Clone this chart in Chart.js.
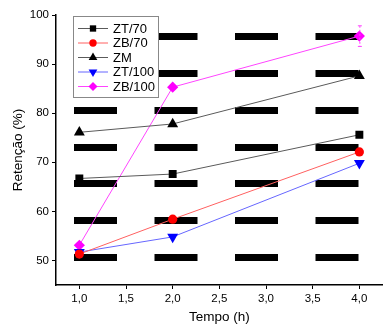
<!DOCTYPE html>
<html>
<head>
<meta charset="utf-8">
<script src="https://cdn.jsdelivr.net/npm/chart.js@4/dist/chart.umd.min.js"></script>
<style>
  html, body { margin: 0; padding: 0; background: #fff; }
  #wrap { width: 389px; height: 333px; }
</style>
</head>
<body>
<div id="wrap"><canvas id="chart" width="389" height="333"></canvas></div>
<script>
const times = [1, 2, 4];
const zt70 = [66.7, 67.6, 75.6];
const zb70 = [51.3, 58.4, 72.1];
const zm = [76.1, 77.8, 87.6];
const zt100 = [51.7, 54.8, 69.8];
const zb100 = [53.1, 85.3, 95.7];
const zb100Err = [0, 0, 2.1];
const xTicks = [1, 1.5, 2, 2.5, 3, 3.5, 4];
const yTicks = [50, 60, 70, 80, 90, 100];
const bandLevels = [50.7, 58.2, 65.7, 73.1, 80.6, 88.1, 95.6];

const FONT = "'Liberation Sans', Arial, sans-serif";

function toPoints(vals) {
  return vals.map((v, i) => ({ x: times[i], y: v }));
}

// error bars drawn through the y scale
const errorBars = {
  id: "errorBars",
  afterDatasetsDraw(chart) {
    const ctx = chart.ctx;
    const xs = chart.scales.x, ys = chart.scales.y;
    chart.data.datasets.forEach(ds => {
      if (!ds.errors) return;
      ctx.save();
      ctx.strokeStyle = ds.borderColor;
      ctx.lineWidth = 1;
      ds.data.forEach((p, i) => {
        const e = ds.errors[i];
        if (!e) return;
        const px = xs.getPixelForValue(p.x) + 0.5;
        const top = ys.getPixelForValue(p.y + e);
        const bot = ys.getPixelForValue(p.y - e);
        ctx.setLineDash([2, 2]);
        ctx.beginPath();
        ctx.moveTo(px, top); ctx.lineTo(px, bot);
        ctx.stroke();
        ctx.setLineDash([]);
        ctx.beginPath();
        ctx.moveTo(px - 2, top); ctx.lineTo(px + 2, top);
        ctx.moveTo(px - 2, bot); ctx.lineTo(px + 2, bot);
        ctx.stroke();
      });
      ctx.restore();
    });
  }
};

// legend box with line + marker samples
const boxLegend = {
  id: "boxLegend",
  afterDraw(chart) {
    const ctx = chart.ctx;
    const left = 73, top = 16, w = 85, h = 81;
    ctx.save();
    ctx.fillStyle = "#fff";
    ctx.fillRect(left, top, w, h);
    ctx.strokeStyle = "#888";
    ctx.lineWidth = 1;
    ctx.strokeRect(left + 0.5, top + 0.5, w, h);
    chart.data.datasets.forEach((ds, i) => {
      const y = 28.5 + i * 14.5;
      ctx.strokeStyle = ds.borderColor;
      ctx.lineWidth = 1;
      ctx.beginPath();
      ctx.moveTo(78, y); ctx.lineTo(108, y);
      ctx.stroke();
      ctx.fillStyle = ds.pointBackgroundColor;
      ctx.strokeStyle = ds.pointBorderColor;
      Chart.helpers.drawPoint(ctx, {
        pointStyle: ds.pointStyle,
        rotation: ds.pointRotation || 0,
        radius: ds.pointRadius * 0.8,
        borderWidth: 0
      }, 93, y);
      ctx.fillStyle = "#000";
      ctx.font = "13px " + FONT;
      ctx.textBaseline = "middle";
      ctx.fillText(ds.label, 113, y + 0.5);
    });
    ctx.restore();
  }
};

function series(label, vals, line, mark, style, radius, rot) {
  return {
    label: label,
    data: toPoints(vals),
    borderColor: line,
    borderWidth: 1,
    pointStyle: style,
    pointRadius: radius,
    pointHoverRadius: radius,
    pointRotation: rot || 0,
    pointBackgroundColor: mark,
    pointBorderColor: mark,
    pointBorderWidth: 0,
    tension: 0
  };
}

const datasets = [
  series("ZT/70", zt70, "#5a5a5a", "#000000", "rect", 5.6),
  series("ZB/70", zb70, "#ff6060", "#ff0000", "circle", 4.6),
  series("ZM", zm, "#5a5a5a", "#000000", "triangle", 6.3),
  series("ZT/100", zt100, "#6666ff", "#0000ff", "triangle", 6.3, 180),
  series("ZB/100", zb100, "#ff44ff", "#ff00ff", "rectRot", 5.6)
];
datasets[4].errors = zb100Err;

new Chart(document.getElementById("chart"), {
  type: "line",
  data: { datasets: datasets },
  plugins: [errorBars, boxLegend],
  options: {
    responsive: false,
    animation: false,
    layout: { padding: { top: 15, right: 1, left: 0, bottom: 0 } },
    plugins: { legend: { display: false }, tooltip: { enabled: false } },
    scales: {
      x: {
        type: "linear",
        min: 0.75,
        max: 4.25,
        afterBuildTicks: s => { s.ticks = xTicks.map(v => ({ value: v })); },
        afterFit: s => { s.height = 48; },
        ticks: {
          color: "#000",
          font: { family: FONT, size: 11.5 },
          padding: 3,
          maxRotation: 0,
          callback: v => v.toFixed(1).replace(".", ",")
        },
        grid: { drawOnChartArea: false, drawTicks: true, tickLength: 4, tickColor: "#000", tickWidth: 1 },
        border: { display: true, color: "#000", width: 1.5 },
        title: { display: true, text: "Tempo (h)", color: "#000", font: { family: FONT, size: 13.5 }, padding: { top: 0, bottom: 8 } }
      },
      y: {
        type: "linear",
        min: 45,
        max: 100,
        afterBuildTicks: s => { s.ticks = yTicks.map(v => ({ value: v })); },
        afterFit: s => { s.width = 56; },
        ticks: { color: "#000", font: { family: FONT, size: 11.5 }, padding: 3 },
        grid: { drawOnChartArea: false, drawTicks: true, tickLength: 4, tickColor: "#000", tickWidth: 1 },
        border: { display: true, color: "#000", width: 1.5 },
        title: { display: true, text: "Retenção (%)", color: "#000", font: { family: FONT, size: 13.5 }, padding: { top: 10, bottom: 0 } }
      },
      bands: {
        type: "linear",
        position: "right",
        min: 45,
        max: 100,
        afterBuildTicks: s => { s.ticks = bandLevels.map(v => ({ value: v })); },
        afterFit: s => { s.width = 0; },
        ticks: { display: false },
        grid: { drawOnChartArea: true, drawTicks: false, color: "#000", lineWidth: 7 },
        border: { display: false, dash: [43, 37.5], dashOffset: 62.5 }
      }
    }
  }
});
</script>
</body>
</html>
